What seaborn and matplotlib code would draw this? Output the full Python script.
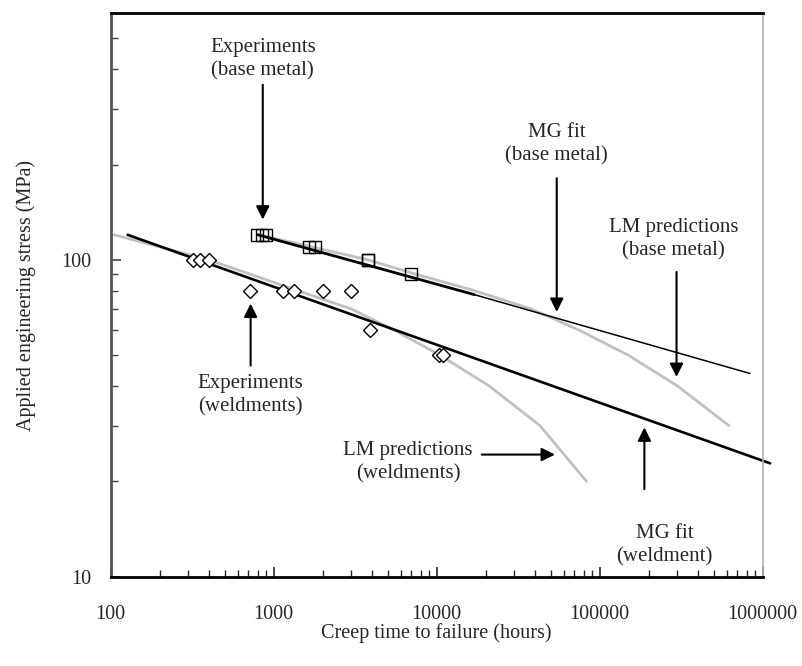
import numpy as np
import pandas as pd
import matplotlib
matplotlib.use("Agg")
import matplotlib.pyplot as plt
import seaborn as sns
from matplotlib.ticker import FixedLocator, NullFormatter, FuncFormatter

# experiments, base metal (hours, MPa)
base_time = [790, 850, 900, 1650, 1800, 3800, 3800, 7000]
base_stress = [120, 120, 120, 110, 110, 100, 100, 90]

# experiments, weldments
weld_time = [320, 355, 400, 720, 1135, 1340, 2000, 2960, 3900, 10300, 11000]
weld_stress = [100, 100, 100, 80, 80, 80, 80, 80, 60, 50, 50]

# LM predictions
lm_base_time = [800, 1700, 3800, 7500, 17000, 38000, 75000, 150000, 300000, 620000]
lm_base_stress = [120, 110, 100, 90, 80, 70, 60, 50, 40, 30]
lm_weld_time = [105, 400, 1400, 3000, 5500, 10500, 21000, 43000, 83000]
lm_weld_stress = [120, 100, 80, 70, 60, 50, 40, 30, 20]

# MG fits (end points of straight lines in log-log)
mg_base_time = [800, 17000, 836000]
mg_base_stress = [120, 77.7, 43.8]
mg_weld_time = [127, 1110000]
mg_weld_stress = [120, 22.8]

sns.set_style("ticks")
plt.rcParams["font.family"] = ["Liberation Serif", "DejaVu Serif"]

fig = plt.figure(figsize=(8.02, 6.66), dpi=100)
ax = fig.add_axes([0.138, 0.134, 0.813, 0.846])

grey = "#c0c0c0"
sns.lineplot(x=lm_base_time, y=lm_base_stress, ax=ax, color=grey, lw=2,
             estimator=None, sort=False)
sns.lineplot(x=lm_weld_time, y=lm_weld_stress, ax=ax, color=grey, lw=2,
             estimator=None, sort=False)

# MG base metal: thick over data range, thin extrapolation
ax.plot(mg_base_time[:2], mg_base_stress[:2], color="black", lw=2.0)
ax.plot(mg_base_time[1:], mg_base_stress[1:], color="black", lw=1.1)
ax.plot(mg_weld_time, mg_weld_stress, color="black", lw=1.9, clip_on=False)

ax.plot(base_time, base_stress, ls="none", marker="s", ms=9,
        mfc="none", mec="black", mew=1.0)
ax.plot(weld_time, weld_stress, ls="none", marker="D", ms=7.5,
        mfc="white", mec="black", mew=1.0)

ax.set_xscale("log")
ax.set_yscale("log")
ax.set_xlim(100, 1e6)
ax.set_ylim(10, 600)

ax.yaxis.set_major_locator(FixedLocator([10, 100]))
ax.yaxis.set_minor_locator(FixedLocator(
    [20, 30, 40, 50, 60, 70, 80, 90, 200, 300, 400, 500]))
ax.xaxis.set_major_locator(FixedLocator([100, 1000, 10000, 100000, 1000000]))
ax.xaxis.set_minor_locator(FixedLocator(
    [m * 10 ** e for e in range(2, 6) for m in range(2, 10)]))
fmt = FuncFormatter(lambda v, p: f"{int(round(v))}")
ax.xaxis.set_major_formatter(fmt)
ax.yaxis.set_major_formatter(fmt)
ax.xaxis.set_minor_formatter(NullFormatter())
ax.yaxis.set_minor_formatter(NullFormatter())
ax.tick_params(axis="both", which="major", direction="in", length=7,
               width=1.2, labelsize=14.5)
ax.tick_params(axis="x", which="major", pad=20)
ax.tick_params(axis="y", which="major", pad=14)
ax.tick_params(axis="both", which="minor", direction="in", length=5,
               width=1.0)
ax.tick_params(axis="y", which="both", color="#404040")

for side, col, w in [("top", "black", 2.0), ("bottom", "black", 2.0),
                     ("left", "#555555", 2.0), ("right", "#b0b0b0", 1.2)]:
    ax.spines[side].set_visible(True)
    ax.spines[side].set_color(col)
    ax.spines[side].set_linewidth(w)

ax.set_xlabel("Creep time to failure (hours)", fontsize=14.5, labelpad=0)
ax.set_ylabel("Applied engineering stress (MPa)", fontsize=14.5, labelpad=18)

arrow = dict(arrowstyle="-|>", mutation_scale=20, lw=1.5, color="black",
             shrinkA=0, shrinkB=0)
tsize = 15
lsp = 1.3

ax.annotate("", xy=(857, 134), xytext=(857, 357), arrowprops=arrow)
ax.text(857, 430, "Experiments\n(base metal)", ha="center", va="center",
        fontsize=tsize, linespacing=lsp)

ax.annotate("", xy=(54500, 68.5), xytext=(54500, 181), arrowprops=arrow)
ax.text(54500, 232, "MG fit\n(base metal)", ha="center", va="center",
        fontsize=tsize, linespacing=lsp)

ax.annotate("", xy=(296000, 42.7), xytext=(296000, 91.6), arrowprops=arrow)
ax.text(285000, 116, "LM predictions\n(base metal)", ha="center",
        va="center", fontsize=tsize, linespacing=lsp)

ax.annotate("", xy=(722, 72.8), xytext=(722, 46.4), arrowprops=arrow)
ax.text(722, 37.5, "Experiments\n(weldments)", ha="center", va="center",
        fontsize=tsize, linespacing=lsp)

ax.annotate("", xy=(53200, 24.3), xytext=(18900, 24.3), arrowprops=arrow)
ax.text(6670, 23.0, "LM predictions\n(weldments)", ha="center",
        va="center", fontsize=tsize, linespacing=lsp)

ax.annotate("", xy=(188000, 29.6), xytext=(188000, 18.9), arrowprops=arrow)
ax.text(250000, 12.6, "MG fit\n(weldment)", ha="center", va="center",
        fontsize=tsize, linespacing=lsp)

fig.savefig("out.png", dpi=100)
